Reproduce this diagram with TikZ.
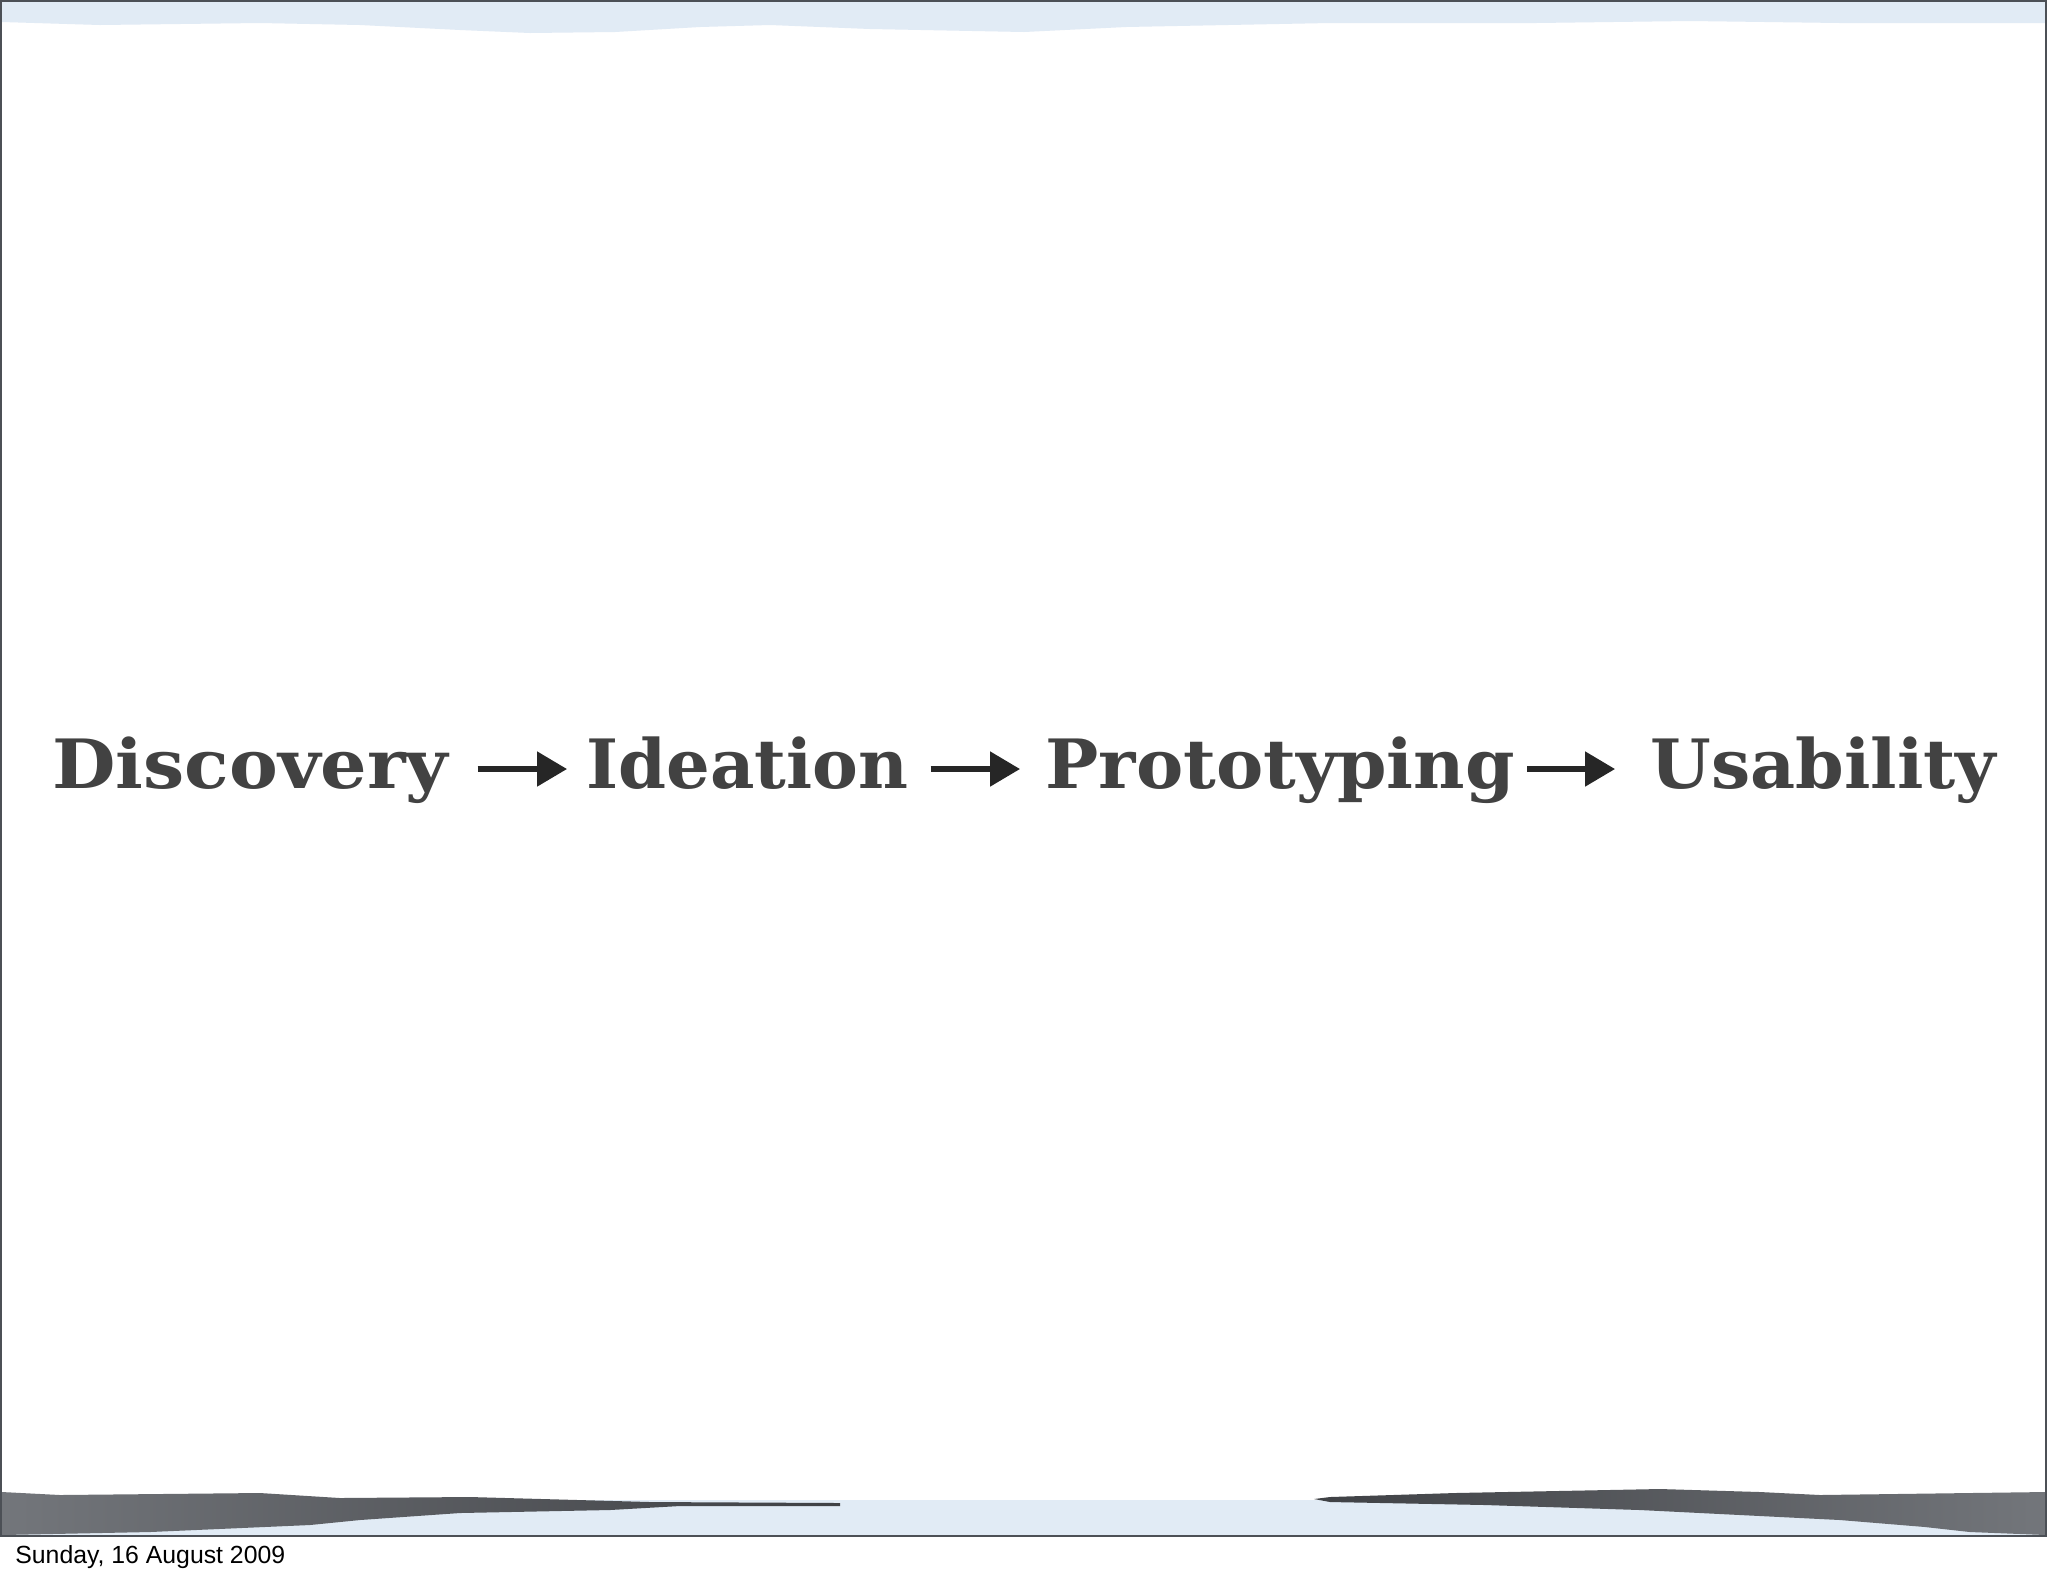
\documentclass[tikz,border=0pt]{standalone}
\usepackage{fontspec}
\setmainfont{DejaVu Serif}
\newfontfamily\datefont{Liberation Sans}
\usetikzlibrary{arrows.meta,positioning}

\definecolor{skyband}{HTML}{E1EBF5}
\definecolor{inkdark}{HTML}{3F4145}
\definecolor{inklight}{HTML}{73767B}
\definecolor{frameline}{HTML}{4C5056}

% widen a word to the reference width
\newcommand{\widen}[2]{\scalebox{#1}[1]{#2}}

\begin{document}
\begin{tikzpicture}[
        x=0.5pt, y=-0.5pt,
        stage/.style={
            inner sep=0pt,
            anchor=base west,
            text=black!74,
            font=\fontsize{34}{40}\selectfont\bfseries
        },
        arrow/.style={
            -{Triangle[length=15pt,width=17pt]},
            line width=2.6pt,
            black!85
        }
    ]
    \useasboundingbox (0,0) rectangle (2048,1576);
    \fill[white] (0,0) rectangle (2048,1576);
    % Top band
    \fill[skyband] (2,2) -- (2046,2) -- (2046,23) -- (1840,23) -- (1690,21)
        -- (1536,23) -- (1330,23) -- (1126,27) -- (1024,32) -- (870,29)
        -- (770,25) -- (700,27) -- (615,32) -- (530,33) -- (460,30)
        -- (360,25) -- (260,23) -- (100,25) -- (2,22) -- cycle;
    % Bottom band
    \fill[skyband] (2,1500) rectangle (2046,1535);
    \shade[left color=inklight, right color=inkdark]
        (2,1492) -- (60,1495) -- (260,1493) -- (340,1498) -- (470,1497)
        -- (650,1502) -- (840,1503) -- (840,1506) -- (680,1506)
        -- (610,1510) -- (460,1513) -- (360,1520) -- (310,1525)
        -- (150,1532) -- (2,1535) -- cycle;
    \shade[left color=inkdark, right color=inklight]
        (1314,1499) -- (1330,1497) -- (1455,1493) -- (1660,1489)
        -- (1760,1492) -- (1820,1495) -- (2046,1492) -- (2046,1535)
        -- (1970,1532) -- (1925,1527) -- (1840,1520) -- (1740,1515)
        -- (1640,1510) -- (1485,1505) -- (1330,1502) -- cycle;
    \draw[frameline, line width=1.3pt] (1,1) rectangle (2046,1536);
    % Stages
    \node[stage] (disc) at (52,788) {\widen{1.076}{Discovery}};
    \node[stage] (idea) at (586,788) {\widen{1.01}{Ideation}};
    \node[stage] (proto) at (1045,788) {\widen{1.042}{Prototyping}};
    \node[stage] (usab) at (1650,788) {\widen{1.024}{Usability}};
    % Connections between stages
    \draw[arrow, shorten <=14.5pt, shorten >=9.5pt]
        ([yshift=9.5pt]disc.base east) -- ([yshift=9.5pt]idea.base west);
    \draw[arrow, shorten <=11pt, shorten >=12.5pt]
        ([yshift=9.5pt]idea.base east) -- ([yshift=9.5pt]proto.base west);
    \draw[arrow, shorten <=6pt, shorten >=17.5pt]
        ([yshift=9.5pt]proto.base east) -- ([yshift=9.5pt]usab.base west);
    % Date
    \node[anchor=base west, inner sep=0pt, font=\datefont\fontsize{12.4}{15}\selectfont]
        (date) at (15,1563) {Sunday, 16 August 2009};
\end{tikzpicture}
\end{document}
